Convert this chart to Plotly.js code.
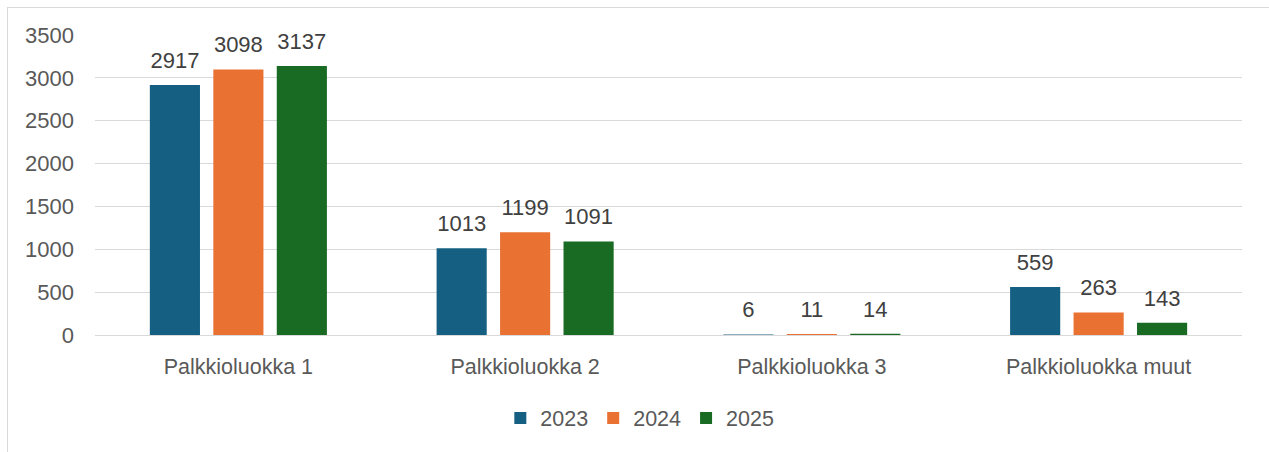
<!DOCTYPE html>
<html>
<head>
<meta charset="utf-8">
<script src="https://cdn.plot.ly/plotly-3.0.1.min.js"></script>
<style>
  html, body { margin: 0; padding: 0; background: #fff; overflow: hidden; }
  #chart { position: absolute; left: 0; top: 0; width: 1269px; height: 452px; }
  #frame { position: absolute; left: 7px; top: 7px; width: 1300px; height: 500px;
           border: 1px solid #d9d9d9; pointer-events: none; }
</style>
</head>
<body>
<div id="chart"></div>
<div id="frame"></div>
<script>
const categories = ["Palkkioluokka 1", "Palkkioluokka 2", "Palkkioluokka 3", "Palkkioluokka muut"];
const years = ["2023", "2024", "2025"];
const values2023 = [2917, 1013, 6, 559];
const values2024 = [3098, 1199, 11, 263];
const values2025 = [3137, 1091, 14, 143];
const yTicks = [0, 500, 1000, 1500, 2000, 2500, 3000, 3500];

const colors = ["#156082", "#E97132", "#196B24"];
const series = [values2023, values2024, values2025];
const fontFam = "Liberation Sans, Arial, sans-serif";
const GAP = 0.336;

const bars = series.map((vals, i) => ({
  type: "bar",
  name: years[i],
  x: categories,
  y: vals,
  offsetgroup: String(i),
  marker: { color: colors[i], line: { width: 0 } },
  hoverinfo: "none"
}));

const labels = series.map((vals, i) => ({
  type: "scatter",
  mode: "markers+text",
  x: categories,
  y: vals,
  offsetgroup: String(i),
  text: vals.map(String),
  textposition: "top center",
  cliponaxis: false,
  marker: { size: 17, opacity: 0, color: colors[i] },
  textfont: { family: fontFam, size: 22, color: "#404040" },
  showlegend: false,
  hoverinfo: "none"
}));

const layout = {
  width: 1269, height: 452,
  margin: { l: 95, r: 27, t: 35, b: 117 },
  paper_bgcolor: "#ffffff", plot_bgcolor: "#ffffff",
  barmode: "group",
  bargap: GAP,
  bargroupgap: 0.21,
  scattermode: "group",
  scattergap: GAP,
  font: { family: fontFam, size: 22, color: "#595959" },
  xaxis: {
    type: "category",
    showgrid: false, showline: false, zeroline: false,
    ticks: "", ticklabelstandoff: 16,
    tickfont: { family: fontFam, size: 21.5, color: "#595959" }
  },
  yaxis: {
    range: [0, 3500],
    tickvals: yTicks, ticktext: yTicks.map(String),
    showgrid: true, gridcolor: "#d9d9d9", gridwidth: 1,
    zeroline: true, zerolinecolor: "#d9d9d9", zerolinewidth: 1,
    showline: false, ticks: "", ticklabelstandoff: 20,
    tickfont: { family: fontFam, size: 22, color: "#595959" }
  },
  showlegend: true,
  legend: {
    orientation: "h", x: 0.475, xanchor: "center", y: -0.277, yanchor: "middle",
    font: { family: fontFam, size: 21.5, color: "#595959" },
    itemwidth: 30, traceorder: "normal"
  }
};

Plotly.newPlot("chart", bars.concat(labels), layout, { displayModeBar: false, staticPlot: true });
</script>
</body>
</html>
